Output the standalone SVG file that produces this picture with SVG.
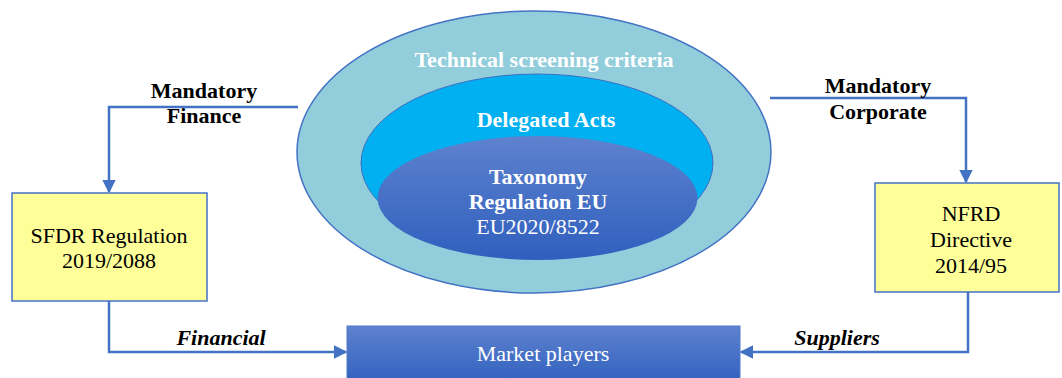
<svg xmlns="http://www.w3.org/2000/svg" width="1062" height="378" viewBox="0 0 1062 378">
<defs>
<linearGradient id="gBlue" x1="0" y1="0" x2="0" y2="1">
<stop offset="0" stop-color="#5E82CE"/>
<stop offset="1" stop-color="#2F5FBE"/>
</linearGradient>
<marker id="arr" viewBox="0 0 10 10" refX="9" refY="5" markerWidth="5.5" markerHeight="5.5" orient="auto" markerUnits="strokeWidth">
<path d="M0,0 L10,5 L0,10 z" fill="#4472C4"/>
</marker>
<style>
.conn{fill:none;stroke:#4472C4;stroke-width:2.5;marker-end:url(#arr)}
.box{fill:#FFFF99;stroke:#4472C4;stroke-width:1.5}
.t{font-family:"Liberation Serif",serif;font-size:22px;text-anchor:middle}
.b{font-weight:bold}
.w{fill:#FFFFFF}
.k{fill:#000000}
.bi{font-weight:bold;font-style:italic}
</style>
</defs>
<g id="connectors">
<path class="conn" d="M298,107 H109 V192"/>
<path class="conn" d="M770,98 H966 V182"/>
<path class="conn" d="M109,301 V352 H346"/>
<path class="conn" d="M968,292 V352 H741"/>
</g>
<g id="labels">
<text class="t b k" x="204" y="98">Mandatory</text>
<text class="t b k" x="204" y="123">Finance</text>
<text class="t b k" x="878" y="93">Mandatory</text>
<text class="t b k" x="878" y="119">Corporate</text>
<text class="t bi k" x="221" y="345">Financial</text>
<text class="t bi k" x="837" y="345">Suppliers</text>
</g>
<g id="outer">
<ellipse cx="534" cy="152" rx="237" ry="141" fill="#92CDDC" stroke="#4472C4" stroke-width="1.5"/>
<text class="t b w" x="544" y="67">Technical screening criteria</text>
</g>
<g id="middle">
<ellipse cx="537" cy="163" rx="176" ry="89" fill="#00B0F0" stroke="#3F6FC0" stroke-width="1"/>
<text class="t b w" x="546" y="127">Delegated Acts</text>
</g>
<g id="inner">
<ellipse cx="537.5" cy="198" rx="160" ry="62" fill="url(#gBlue)"/>
<text class="t b w" x="538" y="184">Taxonomy</text>
<text class="t b w" x="538" y="209">Regulation EU</text>
<text class="t w" x="538" y="234">EU2020/8522</text>
</g>
<g id="sfdr">
<rect class="box" x="12" y="193" width="195" height="108"/>
<text class="t k" x="109" y="243">SFDR Regulation</text>
<text class="t k" x="109" y="268">2019/2088</text>
</g>
<g id="nfrd">
<rect class="box" x="875" y="183" width="184" height="109"/>
<text class="t k" x="971" y="221">NFRD</text>
<text class="t k" x="971" y="247">Directive</text>
<text class="t k" x="971" y="273">2014/95</text>
</g>
<g id="market">
<rect x="347" y="326" width="393" height="60" fill="url(#gBlue)" stroke="#4F7BCC" stroke-width="1"/>
<text class="t w" x="543" y="361">Market players</text>
</g>
</svg>
